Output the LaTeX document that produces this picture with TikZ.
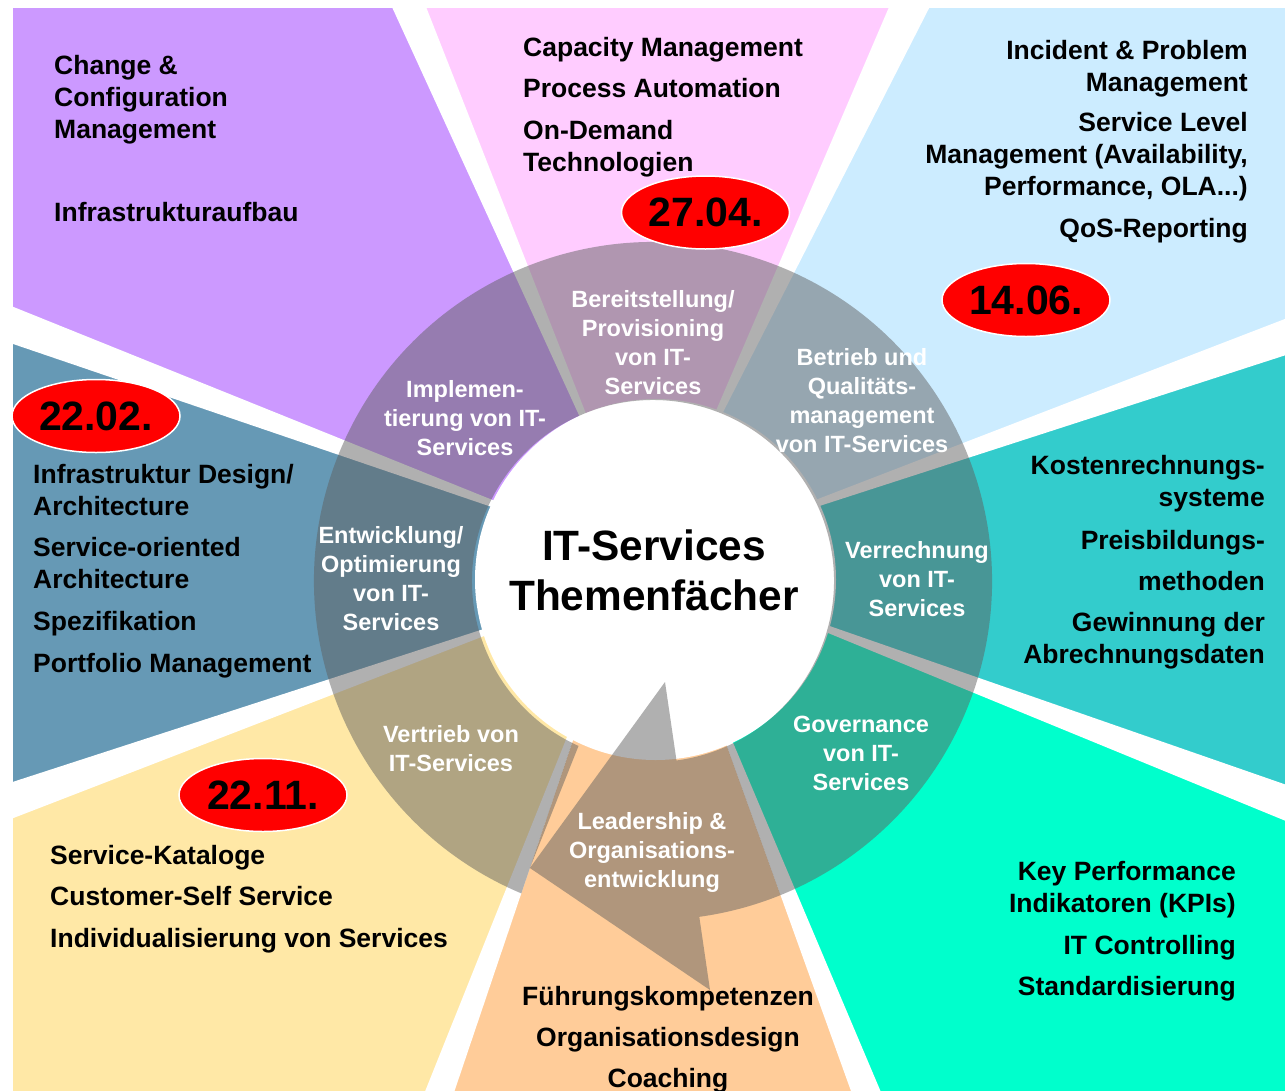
\documentclass[tikz,border=0pt]{standalone}
\usepackage{fontspec}
\setmainfont{Liberation Sans}
\usetikzlibrary{calc}
\usetikzlibrary{shapes.geometric}
\definecolor{lila}{HTML}{CC99FF}
\definecolor{rosa}{HTML}{FFCCFF}
\definecolor{himmel}{HTML}{CCECFF}
\definecolor{petrol}{HTML}{33CCCC}
\definecolor{mint}{HTML}{00FFCC}
\definecolor{apricot}{HTML}{FFCC99}
\definecolor{creme}{HTML}{FFE8A6}
\definecolor{stahl}{HTML}{6699B5}
\definecolor{ringgrey}{RGB}{94,94,94}
\tikzset{spoke/.style = {fill = white}}
\tikzset{ringfill/.style = {fill = ringgrey, fill opacity = 0.49}}
\tikzset{topic/.style = {inner sep = 0, font = \fontsize{26.5}{32}\selectfont\bfseries}}
\tikzset{ringlabel/.style = {inner sep = 0, text = white, align = center, anchor = north,
                             font = \fontsize{23.5}{29}\selectfont\bfseries}}
\tikzset{datum/.style = {ellipse, fill = red, draw = white, line width = 1.5, minimum width = 168,
                         minimum height = 73, inner sep = 0, font = \fontsize{41}{41}\selectfont\bfseries}}

\begin{document}
\begin{tikzpicture}[x = 1pt, y = -1pt]
    \useasboundingbox (0,0) rectangle (1285,1090);

    \coordinate (C) at (653,581);
    \coordinate (i1) at (587,425);     \coordinate (o1) at (402,-10);
    \coordinate (i2) at (715.5,420);   \coordinate (o2) at (917,-10);
    \coordinate (i3) at (806,507);     \coordinate (o3) at (1300,332);
    \coordinate (i4) at (817,625);     \coordinate (o4) at (1300,808);
    \coordinate (i5) at (726.3,735);   \coordinate (o5) at (873,1110);
    \coordinate (i6) at (572.8,731);   \coordinate (o6) at (433,1110);
    \coordinate (i7) at (490,630.3);   \coordinate (o7) at (-10,808);
    \coordinate (i8) at (500.2,506.5); \coordinate (o8) at (-10,317);

    % background fan
    \begin{scope}
        \clip (13,8) rectangle (1285,1090);
        \fill [lila] (C) -- (i8) -- (o8) -- (-10,-10) -- (o1) -- (i1) -- cycle;
        \fill [rosa] (C) -- (i1) -- (o1) -- (o2) -- (i2) -- cycle;
        \fill [himmel] (C) -- (i2) -- (o2) -- (1300,-10) -- (o3) -- (i3) -- cycle;
        \fill [petrol] (C) -- (i3) -- (o3) -- (o4) -- (i4) -- cycle;
        \fill [mint] (C) -- (i4) -- (o4) -- (1300,1110) -- (o5) -- (i5) -- cycle;
        \fill [apricot] (C) -- (i5) -- (o5) -- (o6) -- (i6) -- cycle;
        \fill [creme] (C) -- (i6) -- (o6) -- (-10,1110) -- (o7) -- (i7) -- cycle;
        \fill [stahl] (C) -- (i7) -- (o7) -- (o8) -- (i8) -- cycle;
    \end{scope}

    \fill [spoke] ($(i1)!3.2pt!90:(o1)$) -- ($(o1)!16.2pt!-90:(i1)$) -- ($(o1)!16.2pt!90:(i1)$) -- ($(i1)!3.2pt!-90:(o1)$) -- cycle;
    \fill [spoke] ($(i2)!3.2pt!90:(o2)$) -- ($(o2)!19pt!-90:(i2)$) -- ($(o2)!19pt!90:(i2)$) -- ($(i2)!3.2pt!-90:(o2)$) -- cycle;
    \fill [spoke] ($(i3)!3.2pt!90:(o3)$) -- ($(o3)!17.6pt!-90:(i3)$) -- ($(o3)!17.6pt!90:(i3)$) -- ($(i3)!3.2pt!-90:(o3)$) -- cycle;
    \fill [spoke] ($(i4)!3.2pt!90:(o4)$) -- ($(o4)!17.4pt!-90:(i4)$) -- ($(o4)!17.4pt!90:(i4)$) -- ($(i4)!3.2pt!-90:(o4)$) -- cycle;
    \fill [spoke] ($(i5)!3.2pt!90:(o5)$) -- ($(o5)!14.3pt!-90:(i5)$) -- ($(o5)!14.3pt!90:(i5)$) -- ($(i5)!3.2pt!-90:(o5)$) -- cycle;
    \fill [spoke] ($(i6)!3.2pt!90:(o6)$) -- ($(o6)!14.3pt!-90:(i6)$) -- ($(o6)!14.3pt!90:(i6)$) -- ($(i6)!3.2pt!-90:(o6)$) -- cycle;
    \fill [spoke] ($(i7)!3.2pt!90:(o7)$) -- ($(o7)!17.8pt!-90:(i7)$) -- ($(o7)!17.8pt!90:(i7)$) -- ($(i7)!3.2pt!-90:(o7)$) -- cycle;
    \fill [spoke] ($(i8)!3.2pt!90:(o8)$) -- ($(o8)!18.1pt!-90:(i8)$) -- ($(o8)!18.1pt!90:(i8)$) -- ($(i8)!3.2pt!-90:(o8)$) -- cycle;

    \fill [white] (655.5,579.5) circle [radius = 180.5];

    % ring of topics
    \begin{scope}[shift = {(C)}]
        \fill [ringfill] (112.86:339) arc [start angle = 112.86, end angle = 427.9, radius = 339]
            -- (425.9:181) arc [start angle = 425.9, end angle = 116.55, radius = 181] -- cycle;
        \fill [ringfill] (82.54:181) -- (12,101) -- (-123.1,287) -- (57,409) -- (82.15:339)
            arc [start angle = 82.15, end angle = 67.9, radius = 339]
            -- (65.9:181) arc [start angle = 65.9, end angle = 82.54, radius = 181] -- cycle;
        \fill [ringfill] (116.55:181) -- (-123.1,287) -- (114.3:181)
            arc [start angle = 114.3, end angle = 116.55, radius = 181] -- cycle;
    \end{scope}

    \node [ringlabel] (impl) at (465,380) {Implemen-\\tierung von IT-\\Services};
    \node [ringlabel] (bereit) at (653,290) {Bereitstellung/\\Provisioning\\von IT-\\Services};
    \node [ringlabel] (betrieb) at (862,348) {Betrieb und\\Qualitäts-\\management\\von IT-Services};
    \node [ringlabel] (verr) at (917,541) {Verrechnung\\von IT-\\Services};
    \node [ringlabel] (gov) at (861,716) {Governance\\von IT-\\Services};
    \node [ringlabel] (lead) at (652,812) {Leadership \&\\Organisations-\\entwicklung};
    \node [ringlabel] (vertrieb) at (451,725) {Vertrieb von\\IT-Services};
    \node [ringlabel] (entw) at (391,526) {Entwicklung/\\Optimierung\\von IT-\\Services};

    \node [inner sep = 0, anchor = north, align = center, font = \fontsize{42.4}{50}\selectfont\bfseries]
        (title) at (654,530) {IT-Services\\Themenfächer};

    \node [topic, anchor = north west, align = left] (change) at (54,55) {Change \&\\Configuration\\Management};
    \node [topic, anchor = north west] (infra) at (54,202) {Infrastrukturaufbau};

    \node [topic, anchor = north west] (capacity) at (523,37) {Capacity Management};
    \node [topic, anchor = north west] (automation) at (523,78) {Process Automation};
    \node [topic, anchor = north west, align = left] (ondemand) at (523,120) {On-Demand\\Technologien};

    \node [topic, anchor = north east, align = right] (incident) at (1248,40) {Incident \& Problem\\Management};
    \node [topic, anchor = north east, align = right] (sla) at (1248,112) {Service Level\\Management (Availability,\\Performance, OLA...)};
    \node [topic, anchor = north east] (qos) at (1248,218) {QoS-Reporting};

    \node [topic, anchor = north east, align = right] (kosten) at (1265,455) {Kostenrechnungs-\\systeme};
    \node [topic, anchor = north east] (preis) at (1265,530) {Preisbildungs-};
    \node [topic, anchor = base east] (methoden) at (1265,590) {methoden};
    \node [topic, anchor = north east, align = right] (gewinnung) at (1265,612) {Gewinnung der\\Abrechnungsdaten};

    \node [topic, anchor = north east, align = right] (kpi) at (1236,861) {Key Performance\\Indikatoren (KPIs)};
    \node [topic, anchor = north east] (controlling) at (1236,935) {IT Controlling};
    \node [topic, anchor = north east] (standard) at (1236,976) {Standardisierung};

    \node [topic, anchor = north] (fuehrung) at (668,986) {Führungskompetenzen};
    \node [topic, anchor = north] (orgdesign) at (668,1027) {Organisationsdesign};
    \node [topic, anchor = north] (coaching) at (668,1068) {Coaching};

    \node [topic, anchor = north west] (katalog) at (50,845) {Service-Kataloge};
    \node [topic, anchor = north west] (selfservice) at (50,886) {Customer-Self Service};
    \node [topic, anchor = north west] (individual) at (50,928) {Individualisierung von Services};

    \node [topic, anchor = north west, align = left] (design) at (33,464) {Infrastruktur Design/\\Architecture};
    \node [topic, anchor = north west, align = left] (soa) at (33,537) {Service-oriented\\Architecture};
    \node [topic, anchor = north west] (spez) at (33,611) {Spezifikation};
    \node [topic, anchor = north west] (portfolio) at (33,653) {Portfolio Management};

    \node [datum] (d2704) at (705.5,212.5) {27.04.};
    \node [datum] (d1406) at (1026,300) {14.06.};
    \node [datum] (d2202) at (96,416) {22.02.};
    \node [datum] (d2211) at (263,795) {22.11.};
\end{tikzpicture}
\end{document}
